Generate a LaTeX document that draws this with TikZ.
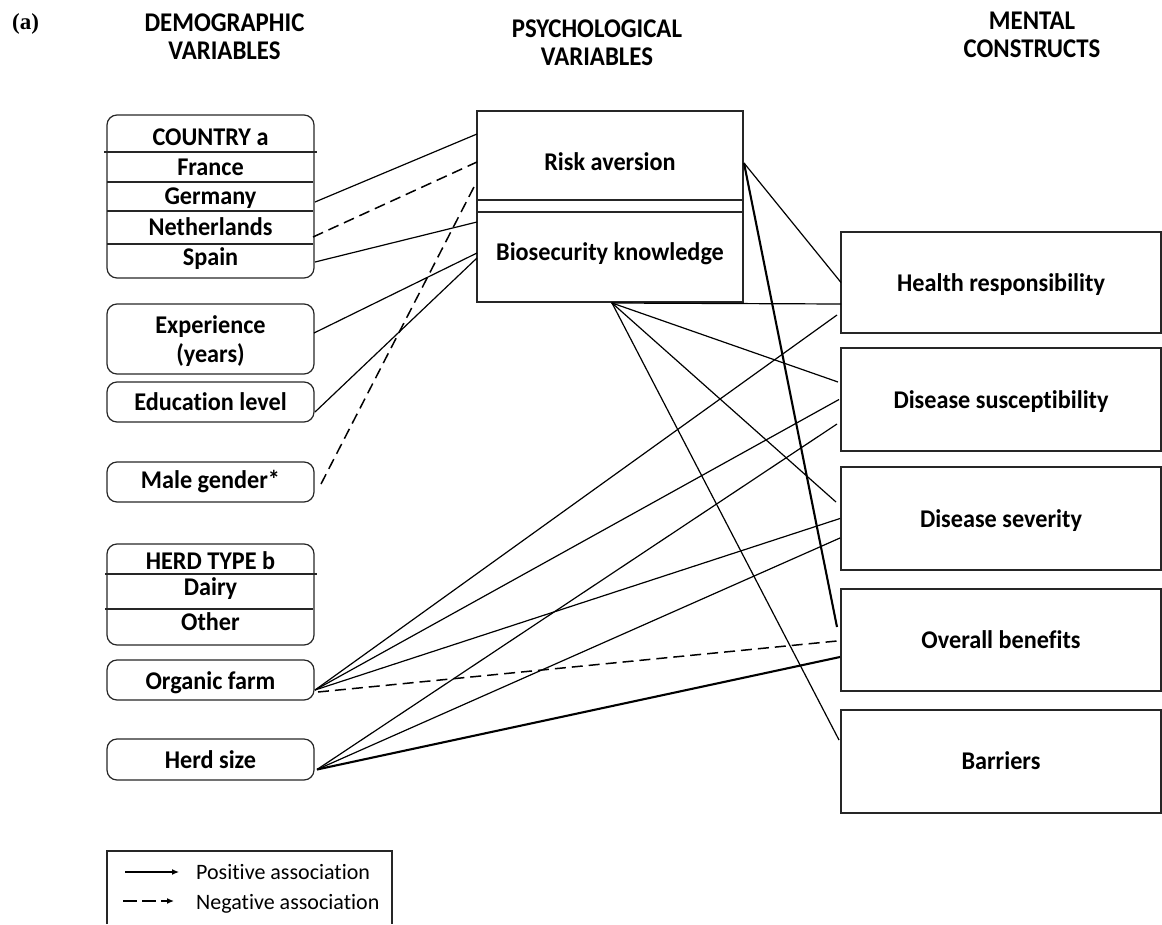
\documentclass[tikz,border=0pt]{standalone}
\usepackage{fontspec}
\setmainfont{Carlito}[Ligatures=NoCommon]
\newfontfamily\boxfont{Carlito}[FakeStretch=0.95,Ligatures=NoCommon]
\newfontfamily\headfont{Carlito}[FakeStretch=0.92]
\newfontfamily\panelfont{Liberation Serif}
\usetikzlibrary{calc,arrows.meta}

\begin{document}
\begin{tikzpicture}[x=1pt,y=-1pt,
  boxline/.style={line width=1.2pt, draw=black!85},
  sqbox/.style={draw, boxline, inner sep=0pt, outer sep=0pt},
  rbox/.style={sqbox, rounded corners=10pt, minimum width=207pt},
  lbl/.style={inner sep=0pt, anchor=base, font=\boxfont\bfseries\fontsize{25.5}{30}\selectfont},
  head/.style={inner sep=0pt, anchor=base, font=\headfont\bfseries\fontsize{27}{28}\selectfont},
  legtext/.style={inner sep=0pt, anchor=base west, font=\fontsize{22}{26}\selectfont},
  poslink/.style={line width=1.2pt},
  neglink/.style={line width=1.5pt, dash pattern=on 11pt off 6pt},
  stronglink/.style={line width=2.1pt},
]
\useasboundingbox (0,0) rectangle (1162,924);

% panel letter and column headings
\node[anchor=base west, inner sep=0pt, font=\panelfont\bfseries\fontsize{23}{26}\selectfont] (panel) at (12,29) {(a)};
\node[head] (hdemo1) at (224.5,31) {DEMOGRAPHIC};
\node[head] (hdemo2) at (224.5,59) {VARIABLES};
\node[head] (hpsy1) at (597,37) {PSYCHOLOGICAL};
\node[head] (hpsy2) at (597,65) {VARIABLES};
\node[head] (hment1) at (1032,29) {MENTAL};
\node[head] (hment2) at (1032,57) {CONSTRUCTS};

% ---- demographic variables ----
\node[rbox, minimum height=163pt] (country) at (210.5,196.5) {};
\draw[boxline] (104,152) -- (317,152);
\draw[boxline] (107,182) -- (313,182);
\draw[boxline] (107,211) -- (313,211);
\draw[boxline] (107,244) -- (313,244);
\node[lbl] (tcountry) at (210.5,145) {COUNTRY a};
\node[lbl] (tfrance) at (210.5,175) {France};
\node[lbl] (tgermany) at (210.5,204) {Germany};
\node[lbl] (tneth) at (210.5,235) {Netherlands};
\node[lbl] (tspain) at (210.5,265) {Spain};

\node[rbox, minimum height=70pt] (exper) at (210.5,339) {};
\node[lbl] (texper1) at (210.5,333) {Experience};
\node[lbl] (texper2) at (210.5,362) {(years)};

\node[rbox, minimum height=40pt] (educ) at (210.5,402) {};
\node[lbl] (teduc) at (210.5,410) {Education level};

\node[rbox, minimum height=40pt] (male) at (210.5,482) {};
\node[lbl] (tmale) at (210.5,488) {Male gender*};

\node[rbox, minimum height=101pt] (herdtype) at (210.5,594.5) {};
\draw[boxline] (105,574) -- (317,574);
\draw[boxline] (105,609) -- (313,609);
\node[lbl] (therdtype) at (210.5,569) {HERD TYPE b};
\node[lbl] (tdairy) at (210.5,595) {Dairy};
\node[lbl] (tother) at (210.5,630) {Other};

\node[rbox, minimum height=40pt] (organic) at (210.5,680) {};
\node[lbl] (torganic) at (210.5,689) {Organic farm};

\node[rbox, minimum height=41pt] (herdsize) at (210.5,759.5) {};
\node[lbl] (therdsize) at (210.5,768) {Herd size};

% ---- psychological variables ----
\node[sqbox, minimum width=266pt, minimum height=191pt] (psych) at (610,206.5) {};
\draw[boxline] (477,200) -- (743,200);
\draw[boxline] (477,212) -- (743,212);
\node[lbl] (trisk) at (610,170) {Risk aversion};
\node[lbl] (tbio) at (610,260) {Biosecurity knowledge};

% ---- mental constructs ----
\node[sqbox, minimum width=320pt, minimum height=101pt] (health) at (1001,282.5) {};
\node[lbl] (thealth) at (1001,291) {Health responsibility};
\node[sqbox, minimum width=320pt, minimum height=103pt] (suscept) at (1001,399.5) {};
\node[lbl] (tsuscept) at (1001,408) {Disease susceptibility};
\node[sqbox, minimum width=320pt, minimum height=103pt] (severity) at (1001,518.5) {};
\node[lbl] (tseverity) at (1001,527) {Disease severity};
\node[sqbox, minimum width=320pt, minimum height=102pt] (benefits) at (1001,640) {};
\node[lbl] (tbenefits) at (1001,648) {Overall benefits};
\node[sqbox, minimum width=320pt, minimum height=103pt] (barriers) at (1001,761.5) {};
\node[lbl] (tbarriers) at (1001,769) {Barriers};

% ---- associations: demographic -> psychological ----
\draw[poslink] ($(country.north east)+(1,87)$) -- ($(psych.north west)+(0,23)$);
\draw[neglink] ($(country.north east)+(-1,122)$) -- ($(psych.north west)+(0,51)$);
\draw[poslink] ($(country.north east)+(1,147)$) -- ($(psych.north west)+(0,111)$);
\draw[poslink] ($(exper.east)+(0,-6)$) -- ($(psych.north west)+(0,142)$);
\draw[poslink] ($(educ.east)+(1,10)$) -- ($(psych.north west)+(0,147)$);
\draw[neglink] ($(male.east)+(7,2)$) -- ($(psych.north west)+(-2,74)$);

% ---- psychological -> mental constructs ----
\draw[poslink] ($(psych.north east)+(1,52)$) -- (health.west);
\draw[stronglink] ($(psych.north east)+(1,52)$) -- ($(benefits.north west)+(-4,38)$);
\draw[poslink] ($(psych.south)+(1,1)$) -- ($(health.north west)+(0,72)$);
\draw[poslink] ($(psych.south)+(2,1)$) -- ($(suscept.north west)+(-3,34)$);
\draw[poslink] ($(psych.south)+(2,1)$) -- ($(severity.north west)+(-5,35)$);
\draw[poslink] ($(psych.south)+(2,1)$) -- ($(barriers.north west)+(-2,30)$);

% ---- demographic -> mental constructs ----
\draw[poslink] ($(organic.east)+(1,10)$) -- ($(health.north west)+(-4,83)$);
\draw[poslink] ($(organic.east)+(1,10)$) -- ($(suscept.west)+(-2,0)$);
\draw[poslink] ($(organic.east)+(1,10)$) -- ($(severity.west)+(-1,0)$);
\draw[neglink] ($(organic.east)+(4,12)$) -- ($(benefits.west)+(-4,1)$);
\draw[poslink] ($(herdsize.east)+(3,10)$) -- ($(suscept.north west)+(-4,76)$);
\draw[poslink] ($(herdsize.east)+(3,10)$) -- ($(severity.north west)+(-1,71)$);
\draw[stronglink] ($(herdsize.east)+(3,10)$) -- ($(benefits.north west)+(-1,68)$);

% ---- legend ----
\draw[boxline] (107,924) |- (392,851) -- (392,924);
\coordinate (lp0) at (125,872);
\coordinate (lp1) at (179,872);
\coordinate (ln0) at (123,901);
\coordinate (ln1) at (174,901);
\draw[poslink, -{Latex[length=7pt,width=6pt]}] (lp0) -- (lp1);
\draw[line width=1.3pt, dash pattern=on 14pt off 5pt, -{Latex[length=7pt,width=6pt]}] (ln0) -- (ln1);
\node[legtext] (lpos) at (196,879) {Positive association};
\node[legtext] (lneg) at (196,909) {Negative association};
\end{tikzpicture}
\end{document}
